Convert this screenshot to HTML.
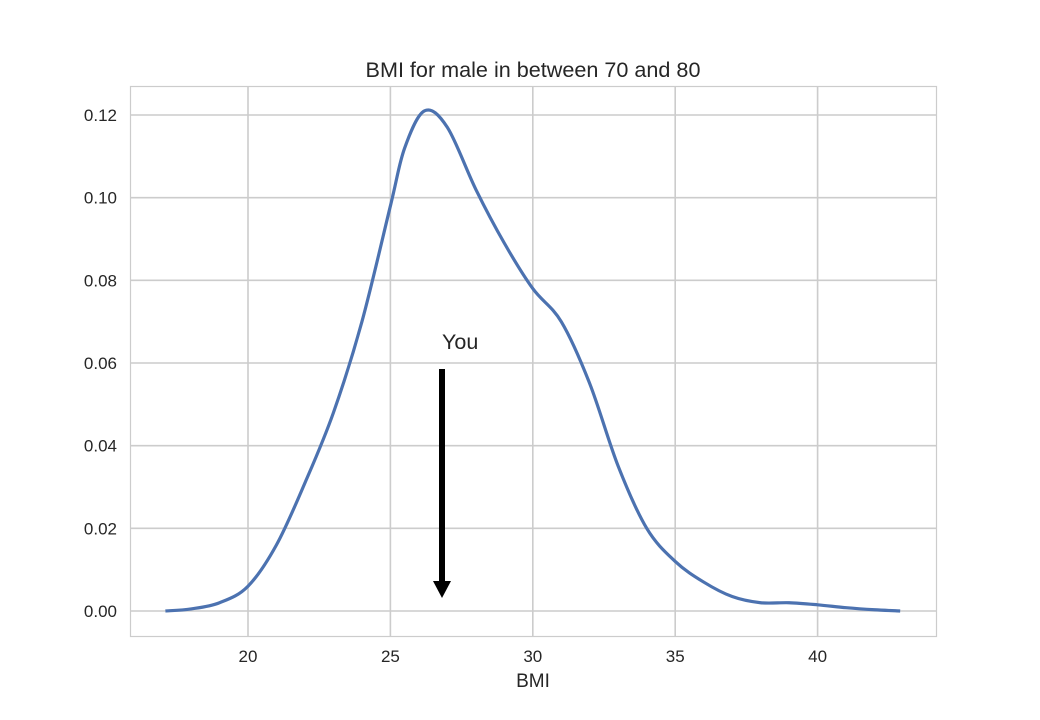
<!DOCTYPE html>
<html><head><meta charset="utf-8"><style>
html,body{margin:0;padding:0;background:#fff;}
svg text{font-family:"Liberation Sans",sans-serif;fill:#262626;}
</style></head><body>
<svg id="chart" width="1040" height="715" viewBox="0 0 1040 715" xmlns="http://www.w3.org/2000/svg">
<rect x="130.5" y="86.5" width="806" height="550" fill="#fff" stroke="#ccc" stroke-width="1.2"/>
<g id="grid"></g>
<g id="ticks"></g>
<path id="kde" fill="none" stroke="#4c72b0" stroke-width="3.2" stroke-linejoin="round"/>
<text x="533" y="77" font-size="21.6" text-anchor="middle">BMI for male in between 70 and 80</text>
<text x="533" y="687" font-size="19" text-anchor="middle">BMI</text>
<g>
<text x="442" y="349" font-size="21.5">You</text>
<rect x="439" y="369" width="6" height="213" fill="#000"/>
<polygon points="433,581 451,581 442,598" fill="#000"/>
</g>
</svg>
<script>
const bmiValues=[17.1,18,19,20,21,22,23,24,25,25.5,26.2,27,28,29,30,31,32,33,34,35,36,37,38,39,40,41,42,42.9];
const densityValues=[0,0.0005,0.002,0.006,0.016,0.031,0.048,0.070,0.098,0.112,0.121,0.117,0.102,0.089,0.078,0.070,0.055,0.035,0.020,0.012,0.007,0.0035,0.002,0.002,0.0015,0.0008,0.0003,0];
const xTicks=[20,25,30,35,40];
const yTicks=[0,0.02,0.04,0.06,0.08,0.10,0.12];
const yTickLabels=["0.00","0.02","0.04","0.06","0.08","0.10","0.12"];
const xs=v=>248+(v-20)*28.48;
const ys=v=>611-v*4133.3;
const NS="http://www.w3.org/2000/svg";
const grid=document.getElementById('grid'),ticks=document.getElementById('ticks');
xTicks.forEach(t=>{
  const l=document.createElementNS(NS,'line');
  l.setAttribute('x1',xs(t));l.setAttribute('x2',xs(t));l.setAttribute('y1',87);l.setAttribute('y2',636);
  l.setAttribute('stroke','#ccc');l.setAttribute('stroke-width','1.6');
  
  
  grid.appendChild(l);
  const tx=document.createElementNS(NS,'text');
  tx.setAttribute('x',xs(t));tx.setAttribute('y',662);tx.setAttribute('font-size','17');tx.setAttribute('text-anchor','middle');
  tx.textContent=t;
  
  
  ticks.appendChild(tx);
});
yTicks.forEach((t,i)=>{
  const l=document.createElementNS(NS,'line');
  l.setAttribute('y1',ys(t));l.setAttribute('y2',ys(t));l.setAttribute('x1',131);l.setAttribute('x2',936);
  l.setAttribute('stroke','#ccc');l.setAttribute('stroke-width','1.6');
  
  
  grid.appendChild(l);
  const tx=document.createElementNS(NS,'text');
  tx.setAttribute('x',117);tx.setAttribute('y',ys(t)+6);tx.setAttribute('font-size','17');tx.setAttribute('text-anchor','end');
  tx.textContent=yTickLabels[i];
  
  
  ticks.appendChild(tx);
});
const P=bmiValues.map((b,i)=>[xs(b),ys(densityValues[i])]);
let d=`M${P[0][0]},${P[0][1]}`;
for(let i=0;i<P.length-1;i++){
  const p0=P[i-1]||P[i],p1=P[i],p2=P[i+1],p3=P[i+2]||P[i+1];
  const c1=[p1[0]+(p2[0]-p0[0])/6,p1[1]+(p2[1]-p0[1])/6];
  const c2=[p2[0]-(p3[0]-p1[0])/6,p2[1]-(p3[1]-p1[1])/6];
  d+=` C${c1[0]},${c1[1]} ${c2[0]},${c2[1]} ${p2[0]},${p2[1]}`;
}
document.getElementById('kde').setAttribute('d',d);
</script>
</body></html>
